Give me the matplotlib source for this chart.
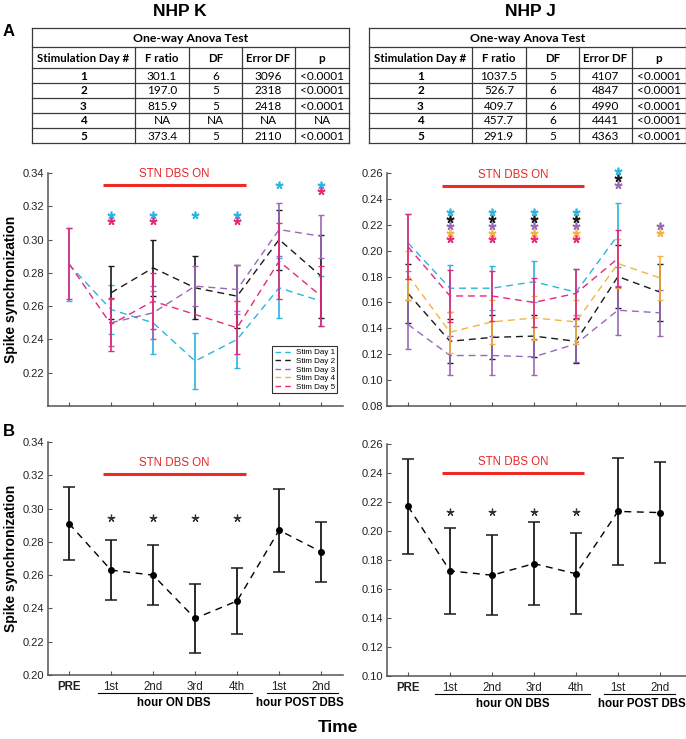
import numpy as np
import matplotlib.pyplot as plt
from matplotlib.lines import Line2D
import matplotlib.transforms as mtransforms

plt.rcParams['font.family'] = ['Liberation Sans', 'DejaVu Sans']

# ── data ─────────────────────────────────────────────────────────────
nan = np.nan
x_labels = ["PRE", "1st", "2nd", "3rd", "4th", "1st", "2nd"]
day_names = ["Stim Day 1", "Stim Day 2", "Stim Day 3", "Stim Day 4", "Stim Day 5"]
day_colors = ["#2AB4E2", "#1A1A1A", "#9A68B8", "#F6B23E", "#E6287D"]

anova_header = ["Stimulation Day #", "F ratio", "DF", "Error DF", "p"]
k_anova = [["1", "301.1", "6", "3096", "<0.0001"],
           ["2", "197.0", "5", "2318", "<0.0001"],
           ["3", "815.9", "5", "2418", "<0.0001"],
           ["4", "NA", "NA", "NA", "NA"],
           ["5", "373.4", "5", "2110", "<0.0001"]]
j_anova = [["1", "1037.5", "5", "4107", "<0.0001"],
           ["2", "526.7", "6", "4847", "<0.0001"],
           ["3", "409.7", "6", "4990", "<0.0001"],
           ["4", "457.7", "6", "4441", "<0.0001"],
           ["5", "291.9", "5", "4363", "<0.0001"]]

# NHP K, per stimulation day (mean, error)
k_day1_mean = [0.285, 0.258, 0.250, 0.227, 0.240, 0.271, 0.263]
k_day1_err = [0.022, 0.015, 0.019, 0.017, 0.017, 0.018, 0.015]
k_day2_mean = [nan, 0.268, 0.283, 0.271, 0.266, 0.300, 0.278]
k_day2_err = [nan, 0.016, 0.017, 0.019, 0.019, 0.018, 0.025]
k_day3_mean = [nan, 0.250, 0.256, 0.272, 0.270, 0.306, 0.302]
k_day3_err = [nan, 0.014, 0.016, 0.012, 0.015, 0.016, 0.013]
k_day4_mean = [nan] * 7
k_day4_err = [nan] * 7
k_day5_mean = [0.2855, 0.249, 0.263, nan, 0.247, 0.287, 0.266]
k_day5_err = [0.0215, 0.016, 0.017, nan, 0.016, 0.023, 0.018]

# NHP J, per stimulation day
j_day1_mean = [0.206, 0.171, 0.171, 0.176, 0.168, 0.212, nan]
j_day1_err = [0.022, 0.018, 0.017, 0.016, 0.018, 0.025, nan]
j_day2_mean = [0.167, 0.130, 0.133, 0.134, 0.130, 0.180, 0.168]
j_day2_err = [0.023, 0.017, 0.017, 0.016, 0.017, 0.024, 0.022]
j_day3_mean = [0.143, 0.119, 0.119, 0.118, 0.128, 0.154, 0.152]
j_day3_err = [0.019, 0.015, 0.015, 0.014, 0.014, 0.019, 0.018]
j_day4_mean = [0.181, 0.137, 0.145, 0.148, 0.145, 0.190, 0.179]
j_day4_err = [0.019, 0.016, 0.017, 0.017, 0.017, 0.019, 0.017]
j_day5_mean = [0.203, 0.165, 0.165, 0.160, 0.167, 0.194, nan]
j_day5_err = [0.025, 0.020, 0.019, 0.019, 0.019, 0.022, nan]

# significance (time-point indices) per day
k_sig = [[1, 2, 3, 4, 5, 6], [], [], [], [1, 2, 4, 6]]
j_sig = [[1, 2, 3, 4, 5], [1, 2, 3, 4, 5], [1, 2, 3, 4, 5, 6], [1, 2, 3, 4, 6], [1, 2, 3, 4]]
k_star_top = [nan, 0.315, 0.315, 0.315, 0.315, 0.333, 0.333]
j_star_top = [nan, 0.2296, 0.2296, 0.2296, 0.2296, 0.2613, 0.219]

# averages over days
k_avg_mean = [0.291, 0.263, 0.260, 0.234, 0.2445, 0.287, 0.274]
k_avg_err = [0.022, 0.018, 0.018, 0.0205, 0.020, 0.025, 0.018]
j_avg_mean = [0.217, 0.1725, 0.1695, 0.1775, 0.1705, 0.2135, 0.2127]
j_avg_err = [0.033, 0.0295, 0.0275, 0.0285, 0.028, 0.037, 0.035]
avg_sig = [1, 2, 3, 4]

x = np.arange(1, 8)
W, H = 686, 739
fig = plt.figure(figsize=(W / 100, H / 100), dpi=100)


def px_axes(left, top, right, bottom, **kw):
    return fig.add_axes([left / W, 1 - bottom / H, (right - left) / W, (bottom - top) / H], **kw)


# ── tables ───────────────────────────────────────────────────────────
over = px_axes(0, 0, W, H, zorder=-1)
over.set_xlim(0, W)
over.set_ylim(H, 0)
over.axis("off")

col_w = [103, 54, 53, 53, 54]
row_edges = [28, 47, 68, 83, 98, 113, 128, 143]
tfont = ['Lato', 'DejaVu Sans']


def draw_table(x0, rows):
    xe = np.concatenate([[x0], x0 + np.cumsum(col_w)])
    lc = "#3a3a3a"
    for y in row_edges:
        over.plot([xe[0], xe[-1]], [y, y], color=lc, lw=0.9)
    over.plot([xe[0], xe[0]], [row_edges[0], row_edges[-1]], color=lc, lw=0.9)
    over.plot([xe[-1], xe[-1]], [row_edges[0], row_edges[-1]], color=lc, lw=0.9)
    for xv in xe[1:-1]:
        over.plot([xv, xv], [row_edges[1], row_edges[-1]], color=lc, lw=0.9)
    over.text((xe[0] + xe[-1]) / 2, (row_edges[0] + row_edges[1]) / 2 + 0.5, "One-way Anova Test",
              ha="center", va="center", fontsize=8.8, fontweight="bold", family=tfont)
    cx = (xe[:-1] + xe[1:]) / 2
    for c, h in enumerate(anova_header):
        over.text(cx[c], (row_edges[1] + row_edges[2]) / 2 + 0.5, h, ha="center", va="center",
                  fontsize=8.3, fontweight="bold", family=tfont)
    for r, row in enumerate(rows):
        yc = (row_edges[r + 2] + row_edges[r + 3]) / 2 + 0.5
        for c, val in enumerate(row):
            over.text(cx[c], yc, val, ha="center", va="center", fontsize=8.5,
                      fontweight="bold" if c == 0 else "normal", family=tfont)


draw_table(32, k_anova)
draw_table(369, j_anova)

fig.text(180 / W, 1 - 12 / H, "NHP K", ha="center", va="center", fontsize=12.5, fontweight="bold")
fig.text(530 / W, 1 - 12 / H, "NHP J", ha="center", va="center", fontsize=12.5, fontweight="bold")
fig.text(3 / W, 1 - 31 / H, "A", ha="left", va="center", fontsize=12, fontweight="bold")
fig.text(3 / W, 1 - 432 / H, "B", ha="left", va="center", fontsize=12, fontweight="bold")


# ── axes ─────────────────────────────────────────────────────────────
def style(ax, ylim, yticks, xmax):
    ax.set_xlim(0.5, xmax)
    ax.set_ylim(*ylim)
    ax.set_yticks(yticks)
    ax.set_yticklabels([f"{v:.2f}" for v in yticks])
    ax.set_xticks(x)
    for s in ["top", "right"]:
        ax.spines[s].set_visible(False)
    for s in ["left", "bottom"]:
        ax.spines[s].set_color("#555555")
        ax.spines[s].set_linewidth(1.1)
    ax.tick_params(direction="in", length=3, width=0.8, color="#555555", labelsize=8,
                   labelcolor="#222222", pad=3)
    ax.tick_params(axis="x", labelsize=8.3, pad=4)
    ax.patch.set_alpha(0)


def dbs_bar(ax, y, ytxt):
    ax.plot([1.8, 5.2], [y, y], color="#EE2A24", lw=2.2, solid_capstyle="butt", clip_on=False)
    ax.text(3.5, ytxt, "STN DBS ON", color="#E8262A", ha="center", va="center", fontsize=8.3)


def days_panel(ax, means, errs, sig, star_top, step):
    for i, (m, e, col) in enumerate(zip(means, errs, day_colors)):
        m = np.asarray(m, float)
        e = np.asarray(e, float)
        ok = ~np.isnan(m)
        if not ok.any():
            continue
        ax.plot(x[ok], m[ok], color=col, lw=1.0, ls=(0, (5, 3.5)), zorder=2 + i)
        ax.errorbar(x[ok], m[ok], yerr=e[ok], fmt="none", ecolor=col, elinewidth=1.2,
                    capsize=2, capthick=1.0, zorder=2 + i)
    for xi in range(7):
        k = 0
        for d in range(5):
            if xi in sig[d]:
                ax.plot(x[xi], star_top[xi] - k * step, marker=(5, 2, 0), ms=5.5, mew=1.2,
                        color=day_colors[d], ls="none", clip_on=False, zorder=10)
                k += 1


axA_k = px_axes(48, 173, 343, 406)
style(axA_k, (0.20, 0.34), np.round(np.arange(0.22, 0.341, 0.02), 2), 7.52)
axA_k.set_xticklabels([])
days_panel(axA_k, [k_day1_mean, k_day2_mean, k_day3_mean, k_day4_mean, k_day5_mean],
           [k_day1_err, k_day2_err, k_day3_err, k_day4_err, k_day5_err], k_sig, k_star_top, 0.004)
dbs_bar(axA_k, 0.3325, 0.3393)
handles = [Line2D([], [], color=c, lw=1.0, ls=(0, (4, 3))) for c in day_colors]
leg = axA_k.legend(handles, day_names, loc="lower right", bbox_to_anchor=(0.98, 0.055),
                   fontsize=5.8, handlelength=2.2, handletextpad=0.4, labelspacing=0.12,
                   borderpad=0.3, frameon=True, fancybox=False, borderaxespad=0)
leg.get_frame().set_edgecolor("black")
leg.get_frame().set_linewidth(0.8)

axA_j = px_axes(387, 173, 686, 406)
style(axA_j, (0.08, 0.26), np.round(np.arange(0.08, 0.261, 0.02), 2), 7.62)
axA_j.set_xticklabels([])
days_panel(axA_j, [j_day1_mean, j_day2_mean, j_day3_mean, j_day4_mean, j_day5_mean],
           [j_day1_err, j_day2_err, j_day3_err, j_day4_err, j_day5_err], j_sig, j_star_top, 0.0052)
dbs_bar(axA_j, 0.2497, 0.2585)


def avg_panel(ax, mean, err, star_y):
    ax.errorbar(x, mean, yerr=err, fmt="o", color="black", ms=4, lw=1.0, ls=(0, (5, 4)),
                elinewidth=1.3, ecolor="#1a1a1a", capsize=4, capthick=1.1, zorder=3)
    for xi in avg_sig:
        ax.plot(x[xi], star_y, marker=(5, 2, 0), ms=5.5, mew=0.9, color="#333333", ls="none")
    ax.set_xticklabels(x_labels)
    ax.get_xticklabels()[0].set_fontweight("bold")
    trans = mtransforms.blended_transform_factory(ax.transData, ax.transAxes)
    return trans


def groups(ax, trans, on_span, post_span, post_center):
    ax.plot(on_span, [-0.078, -0.078], color="black", lw=0.8, transform=trans, clip_on=False)
    ax.plot(post_span, [-0.078, -0.078], color="black", lw=0.8, transform=trans, clip_on=False)
    ax.text(3.5, -0.12, "hour ON DBS", transform=trans, ha="center", va="center",
            fontsize=8.3, fontweight="bold")
    ax.text(post_center, -0.12, "hour POST DBS", transform=trans, ha="center", va="center",
            fontsize=8.3, fontweight="bold")


axB_k = px_axes(48, 442, 343, 675)
style(axB_k, (0.20, 0.34), np.round(np.arange(0.20, 0.341, 0.02), 2), 7.52)
tr = avg_panel(axB_k, k_avg_mean, k_avg_err, 0.2942)
dbs_bar(axB_k, 0.3207, 0.3273)
groups(axB_k, tr, [1.69, 5.36], [5.71, 7.4], 6.5)

axB_j = px_axes(387, 444, 686, 676)
style(axB_j, (0.10, 0.26), np.round(np.arange(0.10, 0.261, 0.02), 2), 7.62)
tr = avg_panel(axB_j, j_avg_mean, j_avg_err, 0.2128)
dbs_bar(axB_j, 0.2397, 0.2473)
groups(axB_j, tr, [1.64, 5.33], [5.67, 7.36], 6.57)

lab_kw = dict(rotation=90, ha="center", va="center", fontsize=10, fontweight="bold")
fig.text(11 / W, 1 - 289 / H, "Spike synchronization", **lab_kw)
fig.text(11 / W, 1 - 558 / H, "Spike synchronization", **lab_kw)
fig.text(338 / W, 1 - 727 / H, "Time", ha="center", va="center", fontsize=12.5, fontweight="bold")

fig.savefig("out.png", dpi=100)
